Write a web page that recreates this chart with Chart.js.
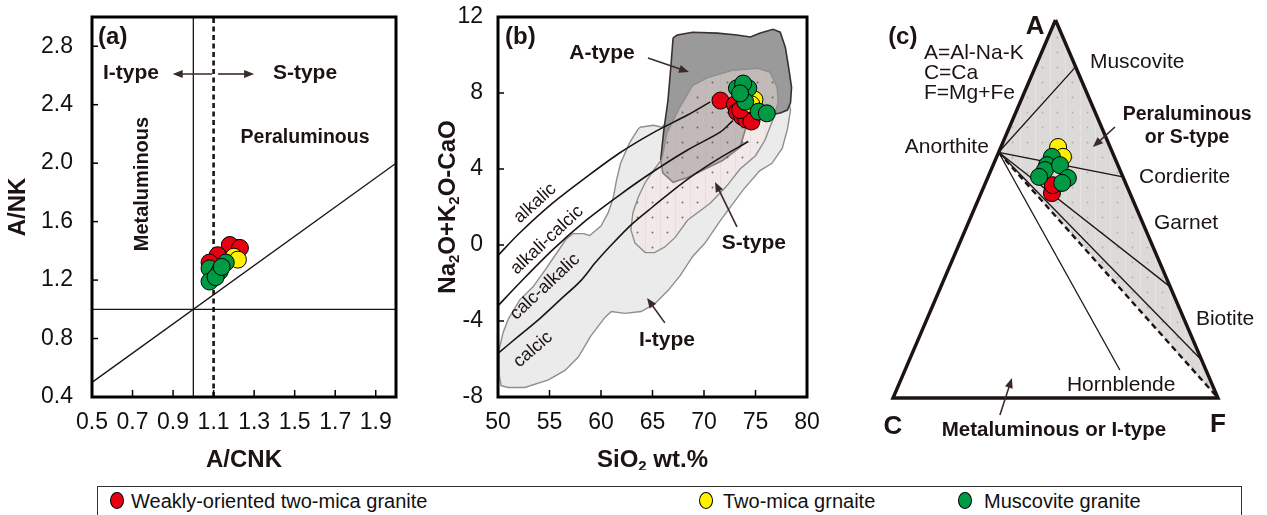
<!DOCTYPE html>
<html>
<head>
<meta charset="utf-8">
<script src="https://cdn.jsdelivr.net/npm/chart.js@4.4.1/dist/chart.umd.min.js"></script>
<style>
  html, body { margin: 0; padding: 0; background: #fff; }
  body { width: 1267px; height: 515px; position: relative; overflow: hidden; font-family: "Liberation Sans", Arial, sans-serif; }
  canvas { position: absolute; top: 0; }
  #chartA { left: 0; }
  #chartB { left: 420px; }
  #chartC { left: 840px; }
  #legend { position: absolute; left: 97px; top: 486px; width: 1145px; height: 40px; border: 1.5px solid #333; box-sizing: border-box; }
  #legend .dot { position: absolute; top: 5px; width: 14px; height: 17px; border-radius: 50%; border: 1px solid #000; box-sizing: border-box; }
  #legend .lbl { position: absolute; top: 3px; font-size: 20px; color: #111; white-space: nowrap; }
</style>
</head>
<body>
<canvas id="chartA" width="420" height="470"></canvas>
<canvas id="chartB" width="420" height="470"></canvas>
<canvas id="chartC" width="427" height="470"></canvas>
<div id="legend">
  <span class="dot" style="left:12px;background:#e60012"></span><span class="lbl" style="left:33px">Weakly-oriented two-mica granite</span>
  <span class="dot" style="left:601px;background:#fff100"></span><span class="lbl" style="left:625px">Two-mica grnaite</span>
  <span class="dot" style="left:860px;background:#009944"></span><span class="lbl" style="left:886px">Muscovite granite</span>
</div>
<script>
const FONT = '"Liberation Sans", Arial, sans-serif';
const INK = '#1c1412';
const RED = '#e60012', YELLOW = '#fff100', GREEN = '#009944';

// ---- (a) A/CNK vs A/NK ----
const aXTicks = [0.5, 0.7, 0.9, 1.1, 1.3, 1.5, 1.7, 1.9];
const aYTicks = [0.4, 0.8, 1.2, 1.6, 2.0, 2.4, 2.8];
const aRedX = [1.21, 1.18, 1.23, 1.12, 1.08];
const aRedY = [1.42, 1.44, 1.42, 1.37, 1.32];
const aYellowX = [1.20, 1.22];
const aYellowY = [1.36, 1.34];
const aGreenX = [1.08, 1.08, 1.13, 1.16, 1.11, 1.14];
const aGreenY = [1.28, 1.19, 1.26, 1.32, 1.22, 1.29];
const aMetaX = [1.0, 1.0], aMetaY = [0.4, 3.0];
const aSTypeX = [1.1, 1.1], aSTypeY = [0.4, 3.0];
const aNKX = [0.5, 2.0], aNKY = [1.0, 1.0];
const aDiagX = [0.5, 2.0], aDiagY = [0.5, 2.0];

// ---- (b) SiO2 vs Na2O+K2O-CaO ----
const bXTicks = [50, 55, 60, 65, 70, 75, 80];
const bYTicks = [-8, -4, 0, 4, 8, 12];
const bRedX = [71.6, 73.0, 73.2, 73.7, 74.1, 74.6, 73.5];
const bRedY = [7.6, 7.4, 7.0, 6.75, 6.6, 6.5, 7.1];
const bYellowX = [74.9, 74.6];
const bYellowY = [7.65, 7.4];
const bGreenX = [73.2, 73.7, 74.3, 74.0, 75.3, 76.1, 73.8, 73.5];
const bGreenY = [8.25, 8.07, 8.25, 7.54, 7.02, 6.93, 8.5, 7.98];
// I-type field
const bIX = [63.8, 65.1, 65.9, 66.9, 68.2, 69.6, 73.0, 75.9, 77.9, 78.4, 78.1, 77.6, 76.6, 75.4, 73.8, 71.6, 70.1, 68.9, 67.7, 66.5,
  65.2, 63.9, 62.3, 61.0, 60.4, 59.0, 57.8, 56.5, 54.9, 52.6, 51.0, 50.3, 50.1, 50.1, 50.5, 51.0, 52.1, 53.4, 54.6, 55.6,
  56.6, 57.3, 58.3, 58.9, 60.0, 60.7, 61.2, 61.5, 61.9, 62.8, 63.6, 63.8];
const bIY = [6.2, 6.3, 6.2, 6.7, 7.9, 8.7, 9.2, 9.2, 8.4, 7.1, 6.1, 5.1, 4.3, 3.9, 2.9, 1.3, 0.1, -0.6, -1.6, -2.4,
  -3.1, -3.5, -3.6, -3.5, -3.8, -4.8, -5.9, -6.6, -7.1, -7.5, -7.5, -7.4, -6.8, -5.5, -4.6, -3.9, -2.9, -2.2, -1.3, -0.5,
  0.3, 0.6, 0.6, 0.5, 1.0, 1.7, 2.5, 3.4, 4.3, 5.4, 6.1, 6.2];
// A-type field
const bAX = [67.0, 67.4, 68.9, 71.3, 73.2, 74.5, 75.4, 76.7, 77.4, 77.9, 78.2, 78.5, 78.4, 78.1, 77.4, 76.4, 75.4, 74.5, 74.0, 73.5,
  71.8, 69.9, 68.4, 67.0, 66.0, 65.8, 66.1, 66.5, 66.8, 67.0];
const bAY = [10.9, 11.05, 11.2, 11.15, 11.05, 10.95, 11.15, 11.35, 11.2, 10.4, 9.4, 8.3, 7.5, 7.1, 6.95, 6.85, 6.75, 6.55, 6.05, 5.15,
  4.45, 3.95, 3.55, 3.3, 3.8, 4.5, 6.05, 7.6, 9.5, 10.9];
// S-type field
const bSX = [64.3, 63.6, 63.1, 62.9, 63.3, 64.3, 65.2, 66.2, 67.2, 68.4, 70.6, 72.2, 73.5, 75.0, 75.9, 76.7, 77.2, 77.1, 76.4, 75.2,
  72.8, 70.3, 68.9, 67.7, 66.4, 65.9, 65.2, 64.3];
const bSY = [3.3, 2.5, 1.7, 0.8, 0.1, -0.4, -0.4, -0.1, 0.4, 1.3, 2.2, 3.1, 4.0, 4.7, 5.5, 6.6, 7.5, 8.3, 9.1, 9.3,
  9.2, 8.8, 8.4, 7.3, 5.9, 4.5, 4.0, 3.3];
// alkalic / alkali-calcic / calc-alkalic / calcic boundaries
const bLine1X = [50.0, 52.1, 55.3, 58.6, 61.8, 65.0, 68.4, 70.6];
const bLine1Y = [-0.55, 0.63, 2.2, 3.58, 4.84, 5.89, 6.84, 7.53];
const bLine2X = [50.0, 52.1, 55.3, 58.6, 61.8, 65.0, 68.4, 71.6, 72.8];
const bLine2Y = [-3.2, -2.0, -0.26, 1.32, 2.63, 3.84, 5.0, 5.95, 6.55];
const bLine3X = [50.0, 52.0, 54.0, 56.0, 58.0, 59.5, 61.0, 63.0, 65.0, 68.0, 71.0, 74.3];
const bLine3Y = [-5.7, -4.8, -3.9, -2.9, -1.9, -0.9, 0.0, 1.1, 2.0, 3.3, 4.4, 5.45];

// ---- (c) ACF ternary (fractions of A and F; C = 1 - A - F) ----
const cRedA = [0.542, 0.563], cRedF = [0.218, 0.210];
const cYellowA = [0.664, 0.638], cYellowF = [0.176, 0.204];
const cGreenA = [0.638, 0.616, 0.603, 0.585, 0.616, 0.582, 0.569];
const cGreenF = [0.170, 0.166, 0.166, 0.157, 0.206, 0.247, 0.236];
const cFrameA = [1, 0, 0, 1], cFrameF = [0, 0, 1, 0];
const cAnorthA = 0.65, cAnorthF = 0;
const cTieNames = ['Muscovite', 'Cordierite', 'Garnet', 'Biotite', 'Hornblende'];
const cTieA = [0.876, 0.585, 0.294, 0.10, 0.074];
const cTieF = [0.124, 0.415, 0.706, 0.90, 0.661];
const cPeraA = [0.65, 1, 0, 0.65], cPeraF = [0, 0, 1, 0];

Chart.defaults.font.family = FONT;

const pts = (xs, ys) => xs.map((x, i) => ({ x, y: ys[i] }));
const tern = (as, fs) => as.map((a, i) => ({ x: fs[i] + a / 2, y: a }));

function markers(data, color, order) {
  return { type: 'scatter', data, order, pointRadius: 8.5, pointHoverRadius: 8.5,
    pointBackgroundColor: color, pointBorderColor: '#000', pointBorderWidth: 1, clip: false };
}
function path(data, extra) {
  return Object.assign({ type: 'line', data, borderColor: INK, borderWidth: 1.3, pointRadius: 0,
    fill: false, tension: 0, order: 10, clip: false }, extra);
}

function dotPattern(canvasId, fill, dot, stripe) {
  const step = 15;
  const c = document.createElement('canvas');
  c.width = c.height = step;
  const g = c.getContext('2d');
  g.fillStyle = fill; g.fillRect(0, 0, step, step);
  if (stripe) { g.fillStyle = stripe; g.fillRect(0, 0, 1, step); }
  g.fillStyle = dot; g.beginPath(); g.arc(step / 2, step / 2, 0.95, 0, Math.PI * 2); g.fill();
  return document.getElementById(canvasId).getContext('2d').createPattern(c, 'repeat');
}

function axis(min, max, ticks, digits, size, pad, horizontal) {
  return {
    type: 'linear', min, max,
    grid: { display: false, drawTicks: false },
    border: { display: false },
    afterBuildTicks: s => { s.ticks = ticks.map(v => ({ value: v })); },
    afterFit: s => {
      if (horizontal) s.height = size; else s.width = size;
      // keep the plot box where the layout padding puts it
      s.paddingTop = s.paddingBottom = 0;
      if (!horizontal) s.paddingLeft = s.paddingRight = 0;
    },
    ticks: { autoSkip: false, maxRotation: 0, padding: pad, color: '#111',
      font: { size: 23 }, callback: v => Number(v).toFixed(digits) }
  };
}

function drawText(ctx, str, px, py, o) {
  ctx.save();
  ctx.font = (o.bold ? 'bold ' : '') + (o.size || 21) + 'px ' + FONT;
  ctx.fillStyle = INK;
  ctx.textAlign = o.align || 'center';
  ctx.textBaseline = 'middle';
  ctx.translate(px, py);
  if (o.rot) ctx.rotate(o.rot * Math.PI / 180);
  ctx.fillText(str, 0, 0);
  ctx.restore();
}

function drawArrow(ctx, x1, y1, x2, y2) {
  const a = Math.atan2(y2 - y1, x2 - x1), h = 10, w = 4;
  ctx.save();
  ctx.strokeStyle = ctx.fillStyle = '#3a2a28';
  ctx.lineWidth = 1.6;
  ctx.beginPath(); ctx.moveTo(x1, y1); ctx.lineTo(x2 - Math.cos(a) * h * 0.7, y2 - Math.sin(a) * h * 0.7); ctx.stroke();
  ctx.beginPath(); ctx.moveTo(x2, y2);
  ctx.lineTo(x2 - h * Math.cos(a) + w * Math.sin(a), y2 - h * Math.sin(a) - w * Math.cos(a));
  ctx.lineTo(x2 - h * Math.cos(a) - w * Math.sin(a), y2 - h * Math.sin(a) + w * Math.cos(a));
  ctx.closePath(); ctx.fill();
  ctx.restore();
}

// bold title with subscript parts: [text, isSub]
function drawTitle(ctx, parts, px, py, rot) {
  const size = 24;
  const big = 'bold ' + size + 'px ' + FONT, small = 'bold 15px ' + FONT;
  ctx.save();
  ctx.translate(px, py);
  if (rot) ctx.rotate(rot);
  let total = 0;
  parts.forEach(([s, sub]) => { ctx.font = sub ? small : big; total += ctx.measureText(s).width; });
  let cx = -total / 2;
  ctx.fillStyle = INK; ctx.textAlign = 'left'; ctx.textBaseline = 'middle';
  parts.forEach(([s, sub]) => {
    ctx.font = sub ? small : big;
    ctx.fillText(s, cx, sub ? 7 : 0);
    cx += ctx.measureText(s).width;
  });
  ctx.restore();
}

function notes(items, arrows, xTitle, yTitle) {
  return {
    id: 'notes',
    afterDatasetsDraw(chart) {
      const { ctx, chartArea: ca, scales: { x, y } } = chart;
      arrows.forEach(a => drawArrow(ctx, x.getPixelForValue(a[0]), y.getPixelForValue(a[1]),
        x.getPixelForValue(a[2]), y.getPixelForValue(a[3])));
      items.forEach(n => drawText(ctx, n.t, x.getPixelForValue(n.x), y.getPixelForValue(n.y), n));
      if (xTitle) drawTitle(ctx, xTitle.parts, (ca.left + ca.right) / 2, ca.bottom + xTitle.gap, 0);
      if (yTitle) drawTitle(ctx, yTitle.parts, ca.left - yTitle.gap, (ca.top + ca.bottom) / 2, -Math.PI / 2);
    }
  };
}

// plot frame with inward tick marks
const frame = {
  id: 'frame',
  afterDraw(chart) {
    const { ctx, chartArea: ca, scales: { x, y } } = chart;
    ctx.save();
    ctx.strokeStyle = '#000';
    ctx.lineWidth = 1.5;
    x.ticks.forEach(t => {
      const px = x.getPixelForValue(t.value);
      ctx.beginPath(); ctx.moveTo(px, ca.bottom); ctx.lineTo(px, ca.bottom - 7); ctx.stroke();
    });
    y.ticks.forEach(t => {
      const py = y.getPixelForValue(t.value);
      ctx.beginPath(); ctx.moveTo(ca.left, py); ctx.lineTo(ca.left + 6, py); ctx.stroke();
    });
    ctx.lineWidth = 3;
    ctx.strokeRect(ca.left, ca.top, ca.width, ca.height);
    ctx.restore();
  }
};

const common = { responsive: false, animation: false, events: [],
  plugins: { legend: { display: false }, tooltip: { enabled: false } } };

// ---------- panel (a) ----------
new Chart(document.getElementById('chartA'), {
  type: 'scatter',
  data: { datasets: [
    path(pts(aMetaX, aMetaY)),
    path(pts(aSTypeX, aSTypeY), { borderWidth: 2.6, borderDash: [5, 3.5] }),
    path(pts(aNKX, aNKY)),
    path(pts(aDiagX, aDiagY)),
    markers(pts(aRedX, aRedY), RED, 3),
    markers(pts(aYellowX, aYellowY), YELLOW, 2),
    markers(pts(aGreenX, aGreenY), GREEN, 1)
  ] },
  options: Object.assign({}, common, {
    layout: { padding: { top: 17, right: 24, left: 0, bottom: 0 } },
    scales: { x: axis(0.5, 2.0, aXTicks, 1, 73, 12, true), y: axis(0.4, 3.0, aYTicks, 1, 92, 19, false) }
  }),
  plugins: [frame, notes([
    { t: '(a)', x: 0.53, y: 2.86, size: 24, bold: true, align: 'left' },
    { t: 'I-type', x: 0.692, y: 2.617, bold: true },
    { t: 'S-type', x: 1.551, y: 2.617, bold: true },
    { t: 'Peraluminous', x: 1.551, y: 2.172, size: 19.5, bold: true },
    { t: 'Metaluminous', x: 0.747, y: 1.857, size: 20, bold: true, rot: -90 }
  ], [[1.092, 2.61, 0.898, 2.61], [1.122, 2.61, 1.30, 2.61]],
  { parts: [['A/CNK', 0]], gap: 63 }, { parts: [['A/NK', 0]], gap: 74 })]
});

// ---------- panel (b) ----------
const sPattern = dotPattern('chartB', 'rgba(248,232,228,0.42)', 'rgba(80,80,80,0.8)', 'rgba(170,160,160,0.15)');
new Chart(document.getElementById('chartB'), {
  type: 'scatter',
  data: { datasets: [
    path(pts(bIX, bIY), { fill: 'shape', backgroundColor: '#ebebeb', borderColor: '#8e8e8e', borderWidth: 1.4, order: 30 }),
    path(pts(bAX, bAY), { fill: 'shape', backgroundColor: '#9a9a9a', borderColor: '#3b3030', borderWidth: 1.6, order: 29 }),
    path(pts(bSX, bSY), { fill: 'shape', backgroundColor: sPattern, borderColor: '#8e8e8e', borderWidth: 1.4, order: 28 }),
    path(pts(bLine1X, bLine1Y), { tension: 0.3, borderWidth: 1.6 }),
    path(pts(bLine2X, bLine2Y), { tension: 0.3, borderWidth: 1.6 }),
    path(pts(bLine3X, bLine3Y), { tension: 0.3, borderWidth: 1.6 }),
    markers(pts(bRedX, bRedY), RED, 3),
    markers(pts(bYellowX, bYellowY), YELLOW, 2),
    markers(pts(bGreenX, bGreenY), GREEN, 1)
  ] },
  options: Object.assign({}, common, {
    layout: { padding: { top: 17, right: 33, left: 0, bottom: 0 } },
    scales: { x: axis(50, 80, bXTicks, 0, 73, 12, true), y: axis(-8, 12, bYTicks, 0, 78, 15, false) }
  }),
  plugins: [frame, notes([
    { t: '(b)', x: 50.68, y: 10.95, size: 24, bold: true, align: 'left' },
    { t: 'A-type', x: 60.1, y: 10.1, bold: true },
    { t: 'S-type', x: 74.85, y: 0.1, bold: true },
    { t: 'I-type', x: 66.4, y: -5.0, bold: true },
    { t: 'alkalic', x: 53.6, y: 2.2, size: 18, rot: -42 },
    { t: 'alkali-calcic', x: 54.76, y: 0.26, size: 18, rot: -43 },
    { t: 'calc-alkalic', x: 54.56, y: -2.2, size: 18, rot: -43 },
    { t: 'calcic', x: 53.4, y: -5.5, size: 18, rot: -41 }
  ], [[64.56, 9.84, 68.54, 9.1], [73.2, 0.95, 71.07, 3.32], [66.2, -4.1, 64.47, -2.79]],
  { parts: [['SiO', 0], ['2', 1], [' wt.%', 0]], gap: 63 },
  { parts: [['Na', 0], ['2', 1], ['O+K', 0], ['2', 1], ['O-CaO', 0]], gap: 50 })]
});

// ---------- panel (c) ----------
const pPattern = dotPattern('chartC', '#dcd9d9', 'rgba(150,150,150,0.6)', 'rgba(255,255,255,0.25)');
const anorth = tern([cAnorthA], [cAnorthF])[0];
const tieLines = cTieNames.map((name, i) => path([anorth, tern([cTieA[i]], [cTieF[i]])[0]], { label: name }));
new Chart(document.getElementById('chartC'), {
  type: 'scatter',
  data: { datasets: [
    path(tern(cPeraA, cPeraF), { fill: 'shape', backgroundColor: pPattern, borderWidth: 0, order: 30 }),
    ...tieLines,
    path([anorth, tern([0], [1])[0]], { borderWidth: 2.4, borderDash: [6, 4] }),
    path(tern(cFrameA, cFrameF), { borderWidth: 3.4, borderJoinStyle: 'miter', order: 9 }),
    markers(tern(cRedA, cRedF), RED, 3),
    markers(tern(cYellowA, cYellowF), YELLOW, 2),
    markers(tern(cGreenA, cGreenF), GREEN, 1)
  ] },
  options: Object.assign({}, common, {
    layout: { padding: { top: 20, right: 49, left: 53, bottom: 72 } },
    scales: {
      x: { type: 'linear', min: 0, max: 1, display: false },
      y: { type: 'linear', min: 0, max: 1, display: false }
    }
  }),
  plugins: [notes([
    { t: '(c)', x: -0.015, y: 0.955, size: 24, bold: true, align: 'left' },
    { t: 'A', x: 0.437, y: 0.981, size: 26, bold: true },
    { t: 'A=Al-Na-K', x: 0.095, y: 0.913, align: 'left' },
    { t: 'C=Ca', x: 0.095, y: 0.860, align: 'left' },
    { t: 'F=Mg+Fe', x: 0.095, y: 0.807, align: 'left' },
    { t: 'Muscovite', x: 0.606, y: 0.889, align: 'left' },
    { t: 'Peraluminous', x: 0.905, y: 0.749, size: 19.5, bold: true },
    { t: 'or S-type', x: 0.905, y: 0.688, size: 19.5, bold: true },
    { t: 'Anorthite', x: 0.295, y: 0.664, align: 'right' },
    { t: 'Cordierite', x: 0.757, y: 0.585, align: 'left' },
    { t: 'Garnet', x: 0.803, y: 0.463, align: 'left' },
    { t: 'Biotite', x: 0.932, y: 0.209, align: 'left' },
    { t: 'Hornblende', x: 0.535, y: 0.034, align: 'left' },
    { t: 'C', x: 0, y: -0.077, size: 26, bold: true },
    { t: 'F', x: 1, y: -0.071, size: 26, bold: true },
    { t: 'Metaluminous or I-type', x: 0.495, y: -0.085, size: 20.5, bold: true }
  ], [[0.683, 0.717, 0.615, 0.664], [0.329, -0.045, 0.366, 0.053]])]
});
</script>
</body>
</html>
